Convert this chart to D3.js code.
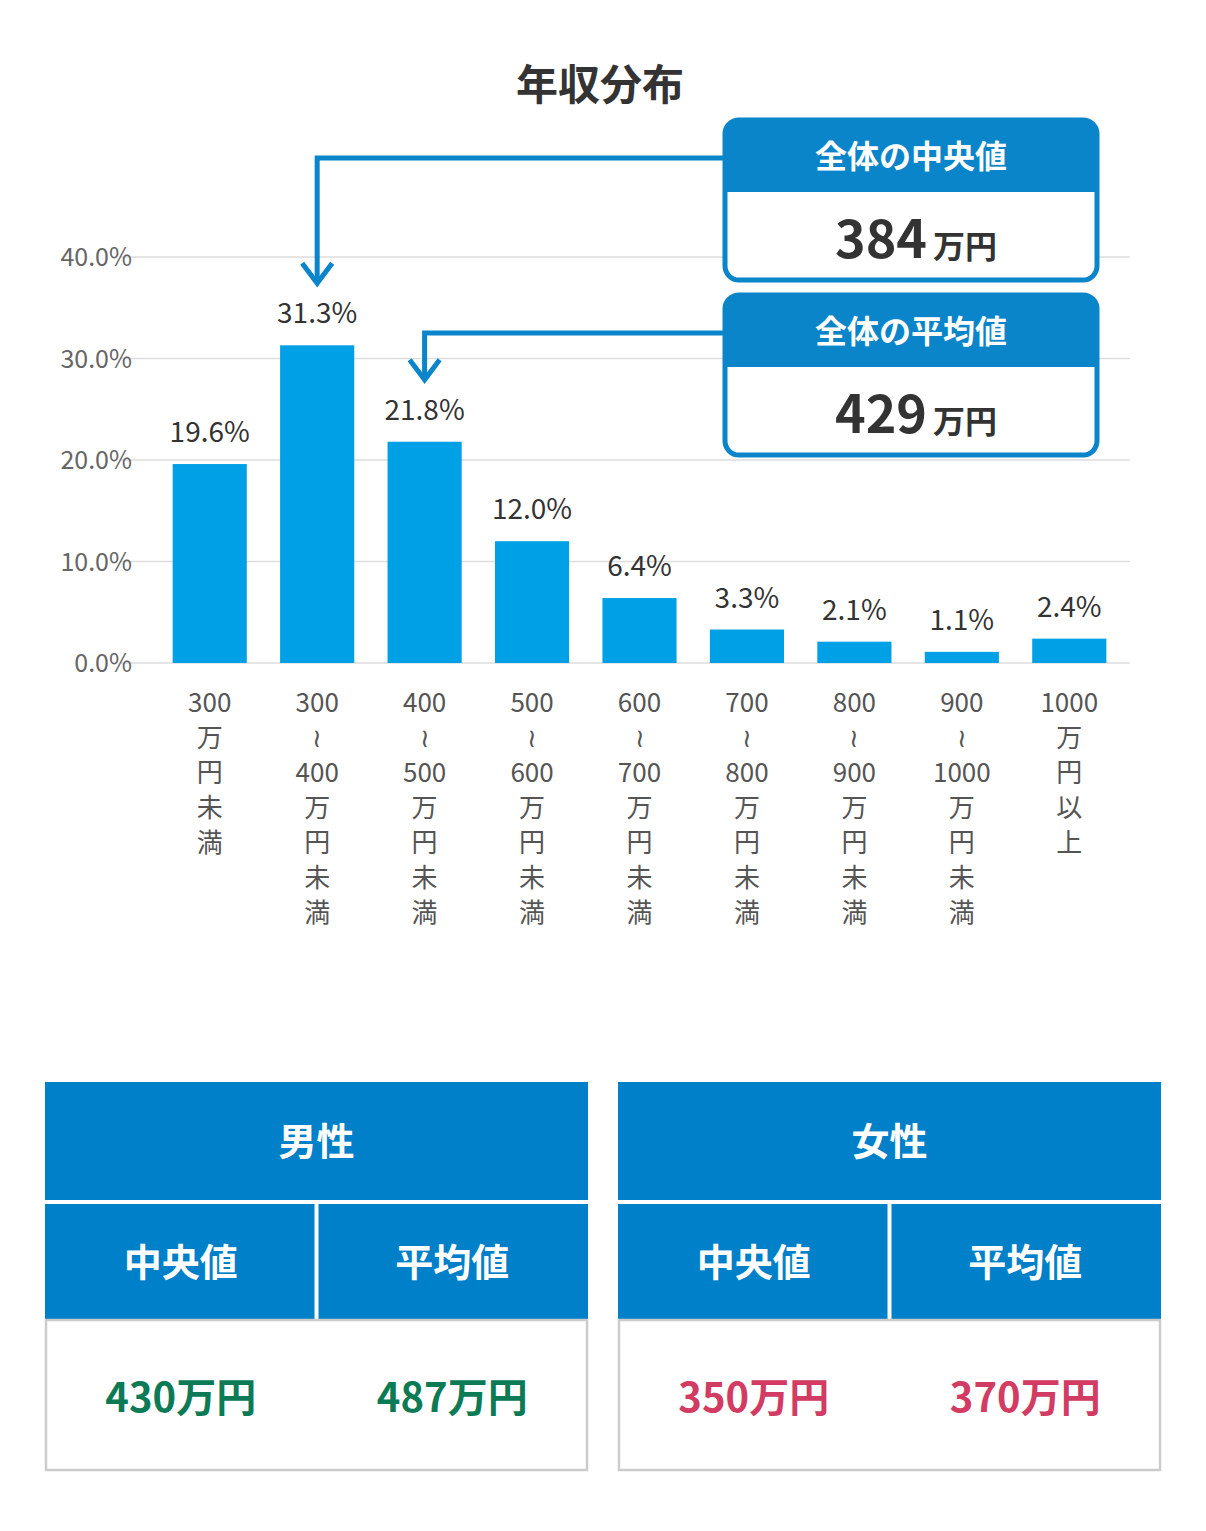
<!DOCTYPE html>
<html><head><meta charset="utf-8">
<script src="https://cdn.jsdelivr.net/npm/d3@7"></script>
<style>body{margin:0;background:#fff}</style>
</head><body>
<div id="chart"></div>
<script>
const categories = [
  ['300','万','円','未','満'],
  ['300','≀','400','万','円','未','満'],
  ['400','≀','500','万','円','未','満'],
  ['500','≀','600','万','円','未','満'],
  ['600','≀','700','万','円','未','満'],
  ['700','≀','800','万','円','未','満'],
  ['800','≀','900','万','円','未','満'],
  ['900','≀','1000','万','円','未','満'],
  ['1000','万','円','以','上']
];
const values = [19.6, 31.3, 21.8, 12.0, 6.4, 3.3, 2.1, 1.1, 2.4];
const yTicks = [0, 10, 20, 30, 40];
const callouts = [
  {title: '全体の中央値', value: '384', unit: '万円', barIndex: 1, top: 120},
  {title: '全体の平均値', value: '429', unit: '万円', barIndex: 2, top: 295}
];
const tables = [
  {title: '男性', median: '430万円', mean: '487万円', color: '#0b7a55'},
  {title: '女性', median: '350万円', mean: '370万円', color: '#d23b62'}
];

const W = 1206, H = 1531;
const font = "'Noto Sans CJK JP', 'Noto Sans', sans-serif";
const svg = d3.select('#chart').append('svg').attr('width', W).attr('height', H)
  .style('font-family', font);

svg.append('text').attr('x', 600).attr('y', 100).attr('text-anchor', 'middle')
  .attr('font-size', 42).attr('font-weight', 'bold').attr('fill', '#333').text('年収分布');

const x = d3.scaleBand().domain(d3.range(values.length)).range([156, 1123]).paddingInner(0.31).paddingOuter(0.155);
const y = d3.scaleLinear().domain([0, 40]).range([663, 257]);

// grid + y labels
svg.append('g').selectAll('line').data(yTicks).join('line')
  .attr('x1', 120).attr('x2', 1130).attr('y1', d => y(d)).attr('y2', d => y(d))
  .attr('stroke', '#ddd').attr('stroke-width', 1.5);
svg.append('g').selectAll('text').data(yTicks).join('text')
  .attr('x', 132).attr('y', d => y(d) + 9).attr('text-anchor', 'end')
  .attr('font-size', 25).attr('fill', '#666').text(d => d.toFixed(1) + '%');

// bars
svg.append('g').attr('fill', '#00a0e6').selectAll('rect').data(values).join('rect')
  .attr('x', (d, i) => x(i)).attr('y', d => y(d))
  .attr('width', x.bandwidth()).attr('height', d => y(0) - y(d));
svg.append('g').selectAll('text').data(values).join('text')
  .attr('x', (d, i) => x(i) + x.bandwidth() / 2).attr('y', d => y(d) - 22)
  .attr('text-anchor', 'middle').attr('font-size', 28).attr('fill', '#333')
  .text(d => d.toFixed(1) + '%');

// x labels
categories.forEach((lines, i) => {
  const t = svg.append('text').attr('text-anchor', 'middle').attr('font-size', 26).attr('fill', '#555');
  lines.forEach((s, j) => t.append('tspan').attr('x', x(i) + x.bandwidth() / 2).attr('y', 712 + j * 35).text(s));
});

// callouts
const blue = '#0a85c9';
callouts.forEach(c => {
  const bx = 725, bw = 372, hh = 72, bh = 160;
  const cx = x(c.barIndex) + x.bandwidth() / 2;
  const ly = c.top + 38;
  const tip = y(values[c.barIndex]) - 62;
  svg.append('path').attr('d', `M${bx},${ly}H${cx}V${tip - 4}`)
    .attr('fill', 'none').attr('stroke', blue).attr('stroke-width', 5);
  svg.append('path').attr('d', `M${cx - 15},${tip - 20}L${cx},${tip}L${cx + 15},${tip - 20}`)
    .attr('fill', 'none').attr('stroke', blue).attr('stroke-width', 5);
  svg.append('rect').attr('x', bx).attr('y', c.top).attr('width', bw).attr('height', bh)
    .attr('rx', 14).attr('fill', '#fff').attr('stroke', blue).attr('stroke-width', 5);
  svg.append('path').attr('d', `M${bx},${c.top + hh}V${c.top + 14}Q${bx},${c.top} ${bx + 14},${c.top}H${bx + bw - 14}Q${bx + bw},${c.top} ${bx + bw},${c.top + 14}V${c.top + hh}Z`)
    .attr('fill', blue);
  svg.append('text').attr('x', bx + bw / 2).attr('y', c.top + 48).attr('text-anchor', 'middle')
    .attr('font-size', 32).attr('font-weight', 'bold').attr('fill', '#fff').text(c.title);
  const t = svg.append('text').attr('x', bx + bw / 2 + 5).attr('y', c.top + 138).attr('text-anchor', 'middle').attr('fill', '#333').attr('font-weight', 'bold');
  t.append('tspan').attr('font-size', 52).text(c.value);
  t.append('tspan').attr('font-size', 32).attr('dx', 6).text(c.unit);
});

// tables
const tblBlue = '#0080c8';
tables.forEach((tb, i) => {
  const tx = i === 0 ? 45 : 618, tw = 543;
  svg.append('rect').attr('x', tx).attr('y', 1082).attr('width', tw).attr('height', 118).attr('fill', tblBlue);
  svg.append('rect').attr('x', tx).attr('y', 1204).attr('width', tw / 2 - 2).attr('height', 116).attr('fill', tblBlue);
  svg.append('rect').attr('x', tx + tw / 2 + 2).attr('y', 1204).attr('width', tw / 2 - 2).attr('height', 116).attr('fill', tblBlue);
  svg.append('rect').attr('x', tx + 1).attr('y', 1320).attr('width', tw - 2).attr('height', 150)
    .attr('fill', '#fff').attr('stroke', '#ccc').attr('stroke-width', 2.5);
  svg.append('text').attr('x', tx + tw / 2).attr('y', 1155).attr('text-anchor', 'middle')
    .attr('font-size', 38).attr('font-weight', 'bold').attr('fill', '#fff').text(tb.title);
  [['中央値', tb.median], ['平均値', tb.mean]].forEach(([h, v], k) => {
    const cx = tx + tw / 4 + k * tw / 2;
    svg.append('text').attr('x', cx).attr('y', 1276).attr('text-anchor', 'middle')
      .attr('font-size', 38).attr('font-weight', 'bold').attr('fill', '#fff').text(h);
    svg.append('text').attr('x', cx).attr('y', 1412).attr('text-anchor', 'middle')
      .attr('font-size', 40).attr('font-weight', 'bold').attr('fill', tb.color).text(v);
  });
});
</script>
</body></html>
